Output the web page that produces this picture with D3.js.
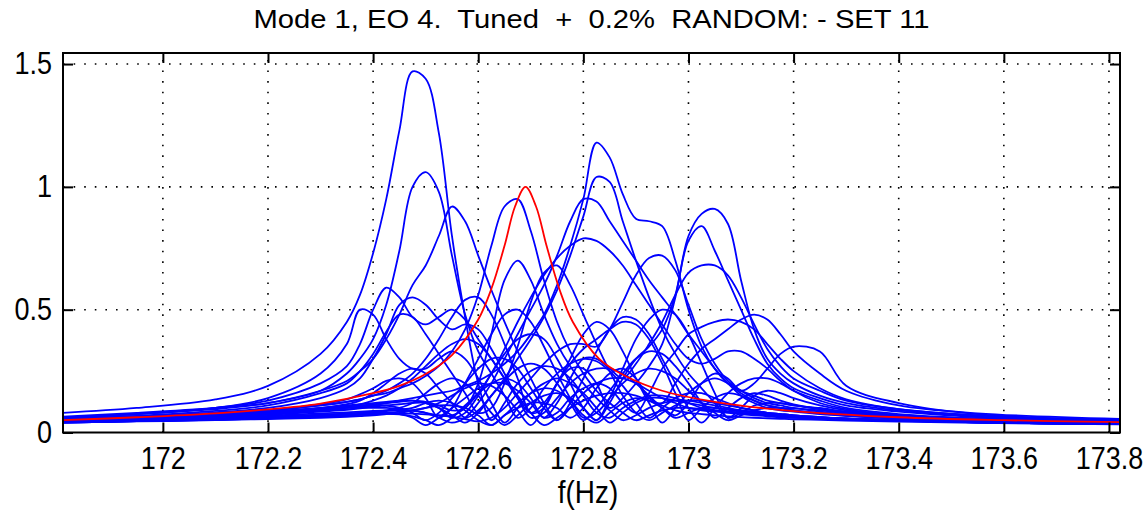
<!DOCTYPE html>
<html>
<head>
<meta charset="utf-8">
<script src="https://cdn.jsdelivr.net/npm/d3@7"></script>
<style>
  body { margin: 0; background: #fff; }
  svg text { font-family: "Liberation Sans", Arial, sans-serif; fill: #000; }
</style>
</head>
<body>
<div id="chart"></div>
<script>
const width = 1144,
      height = 512;
const margin = { left: 63, right: 24, top: 53, bottom: 79.5 };

const titleText = "Mode 1, EO 4.  Tuned  +  0.2%  RANDOM: - SET 11";
const xLabel = "f(Hz)";
const xTicks = [172, 172.2, 172.4, 172.6, 172.8, 173, 173.2, 173.4, 173.6, 173.8];
const yTicks = [0, 0.5, 1, 1.5];

// frequency grid shared by all the blade responses
const freqs = [171.81, 171.95, 172.10, 172.20, 172.30,
  172.35, 172.375, 172.40, 172.425, 172.45, 172.475, 172.50, 172.525, 172.55, 172.575,
  172.60, 172.625, 172.65, 172.675, 172.70, 172.725, 172.75, 172.775, 172.80, 172.825,
  172.85, 172.875, 172.90, 172.925, 172.95, 172.975, 173.00, 173.025, 173.05, 173.075,
  173.10, 173.125, 173.15, 173.175, 173.20, 173.25, 173.30, 173.40, 173.55, 173.82];

// mistuned blades (blue)
const blade01 = [.08,.1,.135,.19,.32, .45,.56,.73,.95,1.23, 1.47,1.44,1.22,.8,.47, .2,.05,.12,.2,.25, .27,.26,.22,.15,.08, .06,.1,.13,.15,.15, .14,.12,.1,.09,.085, .08,.075,.07,.068,.065, .06,.056,.05,.045,.035];
const blade02 = [.065,.08,.1,.12,.17, .24,.3,.38,.52,.74, 1.0,1.06,.98,.72,.48, .33,.24,.15,.06,.1, .18,.24,.28,.3,.29, .25,.19,.12,.06,.1, .14,.16,.16,.14,.12, .1,.09,.08,.075,.07, .063,.057,.05,.043,.035];
const blade03 = [.06,.075,.095,.12,.17, .21,.25,.3,.38,.48, .6,.68,.8,.92,.86, .72,.58,.45,.33,.22, .12,.05,.1,.16,.2, .22,.22,.2,.17,.14, .12,.1,.09,.085,.08, .075,.07,.066,.062,.06, .056,.052,.047,.041,.034];
const blade04 = [.05,.06,.075,.09,.11, .125,.135,.15,.16,.18, .2,.23,.27,.33,.42, .56,.76,.92,.95,.82, .62,.45,.33,.24,.17, .12,.08,.05,.07,.09, .1,.1,.095,.09,.085, .08,.075,.07,.066,.062, .057,.053,.047,.041,.034];
const blade05 = [.045,.055,.065,.075,.09, .1,.105,.11,.12,.13, .14,.15,.16,.17,.19, .21,.24,.28,.33,.4, .48,.6,.76,.95,1.18, 1.12,.97,.87,.86,.84, .7,.5,.35,.26,.2, .17,.15,.13,.12,.11, .095,.085,.07,.057,.045];
const blade06 = [.05,.06,.07,.08,.095, .105,.11,.115,.12,.125, .13,.12,.1,.07,.04, .08,.15,.22,.3,.38, .47,.58,.72,.88,1.04, 1.02,.86,.7,.55,.42, .32,.24,.18,.12,.06, .08,.11,.12,.12,.11, .1,.085,.07,.055,.042];
const blade07 = [.05,.06,.07,.08,.09, .095,.1,.1,.1,.095, .09,.08,.06,.04,.06, .12,.2,.3,.4,.5, .6,.72,.86,.95,.94, .86,.78,.7,.62,.55, .48,.4,.33,.26,.2, .15,.12,.1,.09,.085, .075,.068,.058,.048,.038];
const blade08 = [.045,.052,.06,.068,.078, .082,.085,.088,.09,.09, .088,.08,.07,.07,.1, .16,.24,.34,.45,.55, .64,.71,.76,.79,.78, .74,.68,.6,.52,.44, .36,.3,.28,.3,.33, .33,.3,.26,.21,.17, .12,.095,.07,.055,.042];
const blade09 = [.04,.046,.053,.06,.07, .076,.08,.085,.09,.1, .12,.16,.2,.22,.2, .15,.08,.03,.07,.12, .15,.16,.14,.1,.05, .12,.22,.3,.35,.42, .56,.8,.89,.91,.85, .62,.42,.3,.24,.2, .15,.12,.09,.065,.048];
const blade10 = [.04,.046,.052,.058,.064, .068,.072,.076,.08,.085, .09,.1,.12,.15,.18, .2,.19,.15,.09,.03, .1,.2,.26,.26,.2, .1,.14,.2,.27,.36, .55,.78,.84,.74,.62, .5,.38,.28,.22,.18, .14,.11,.085,.063,.047];
const blade11 = [.04,.046,.052,.058,.065, .07,.072,.075,.076,.074, .066,.05,.03,.06,.11, .16,.2,.22,.2,.14, .06,.12,.22,.3,.3, .26,.22,.28,.36,.45, .56,.65,.68,.68,.64, .55,.44,.34,.27,.22, .17,.13,.095,.07,.05];
const blade12 = [.045,.05,.057,.063,.07, .073,.075,.077,.078,.078, .077,.074,.07,.064,.055, .045,.06,.1,.16,.22, .28,.33,.36,.36,.35, .42,.53,.64,.71,.72, .66,.52,.38,.28,.21, .17,.14,.12,.11,.1, .085,.075,.06,.05,.04];
const blade13 = [.06,.075,.1,.13,.2, .27,.36,.5,.59,.55, .47,.44,.47,.5,.46, .38,.3,.22,.15,.08, .03,.06,.1,.13,.15, .16,.16,.15,.13,.11, .09,.08,.075,.07,.066, .063,.06,.058,.056,.054, .051,.048,.044,.039,.033];
const blade14 = [.055,.068,.088,.11,.16, .2,.25,.32,.41,.48, .47,.4,.32,.24,.16, .08,.1,.2,.35,.53, .65,.68,.6,.48,.36, .25,.15,.08,.05,.08, .11,.13,.13,.12,.11, .1,.09,.08,.075,.07, .062,.056,.048,.041,.034];
const blade15 = [.05,.06,.072,.085,.1, .11,.115,.12,.125,.13, .13,.125,.11,.09,.1, .2,.4,.62,.7,.62, .48,.36,.27,.2,.14, .09,.05,.07,.1,.12, .13,.13,.12,.11,.1, .09,.082,.076,.07,.066, .06,.055,.048,.041,.034];
const blade16 = [.055,.066,.082,.1,.14, .18,.22,.3,.4,.52, .55,.52,.46,.42,.44, .42,.34,.24,.14,.06, .08,.14,.2,.24,.26, .26,.24,.2,.15,.1, .06,.08,.1,.1,.095, .09,.085,.08,.075,.07, .063,.057,.05,.042,.034];
const blade17 = [.045,.054,.066,.078,.095, .105,.115,.13,.15,.18, .22,.27,.32,.36,.38, .36,.3,.22,.14,.08, .12,.2,.3,.4,.45, .42,.33,.22,.12,.04, .1,.16,.2,.22,.2, .16,.13,.11,.1,.09, .078,.068,.056,.046,.036];
const blade18 = [.04,.045,.05,.055,.06, .064,.067,.07,.075,.08, .09,.1,.11,.11,.1, .07,.03,.07,.12,.16, .18,.17,.13,.07,.04, .08,.12,.14,.13,.1, .07,.12,.2,.24,.22, .17,.2,.26,.32,.35, .33,.19,.12,.075,.05];
const blade19 = [.042,.048,.055,.062,.07, .074,.077,.08,.08,.075, .06,.03,.06,.1,.14, .18,.2,.2,.17,.12, .06,.08,.14,.18,.2, .18,.12,.08,.16,.26, .33,.4,.43,.45,.46, .45,.42,.36,.3,.25, .18,.135,.095,.07,.05];
const blade20 = [.043,.05,.057,.065,.073, .077,.08,.083,.087,.093, .1,.12,.13,.12,.09, .05,.03,.07,.1,.12, .12,.1,.06,.1,.18, .24,.26,.22,.14,.12, .2,.28,.34,.38,.42, .46,.48,.46,.4,.33, .24,.17,.11,.078,.055];
const blade21 = [.05,.058,.07,.082,.1, .115,.13,.16,.2,.24, .26,.24,.18,.12,.06, .09,.15,.21,.26,.28, .26,.2,.12,.05,.1, .17,.24,.3,.33,.32, .27,.2,.12,.06,.1, .14,.16,.15,.13,.115, .095,.08,.063,.05,.038];
const blade22 = [.048,.056,.066,.077,.09, .1,.105,.11,.11,.1, .08,.05,.08,.14,.2, .26,.3,.3,.26,.18, .1,.05,.12,.22,.33, .42,.47,.46,.4,.3, .2,.1,.04,.1,.16, .2,.22,.22,.2,.17, .13,.1,.075,.057,.042];
const blade23 = [.052,.062,.075,.09,.115, .135,.155,.18,.21,.22, .2,.14,.06,.1,.2, .3,.4,.48,.5,.45, .35,.24,.14,.06,.08, .14,.2,.24,.26,.25, .22,.17,.12,.08,.05, .07,.09,.1,.1,.098, .09,.08,.065,.052,.04];
const blade24 = [.06,.075,.1,.14,.24, .36,.5,.48,.38,.3, .26,.26,.3,.33,.3, .22,.12,.04,.1,.16, .2,.22,.2,.16,.1, .04,.08,.12,.14,.14, .13,.12,.11,.1,.092, .085,.079,.074,.07,.066, .06,.055,.048,.041,.034];
const blade25 = [.05,.06,.073,.088,.11, .125,.135,.15,.17,.2, .24,.3,.38,.47,.54, .55,.48,.36,.22,.08, .1,.2,.28,.34,.38, .42,.45,.44,.38,.28, .16,.05,.1,.14,.16, .15,.13,.11,.1,.09, .08,.07,.058,.048,.038];
const blade26 = [.045,.052,.062,.072,.085, .092,.098,.105,.11,.115, .12,.12,.1,.06,.08, .15,.24,.32,.38,.4, .38,.3,.2,.1,.05, .14,.26,.38,.46,.5, .48,.4,.28,.16,.06, .1,.15,.17,.16,.14, .11,.09,.07,.055,.042];

const blades = [blade01, blade02, blade03, blade04, blade05, blade06, blade07, blade08,
                blade09, blade10, blade11, blade12, blade13, blade14, blade15, blade16,
                blade17, blade18, blade19, blade20, blade21, blade22, blade23, blade24,
                blade25, blade26];

// tuned response (red)
const tunedFreqs = [171.81, 171.95, 172.10, 172.20, 172.30, 172.40, 172.45, 172.50, 172.55, 172.60,
  172.625, 172.65, 172.67, 172.69, 172.71, 172.73, 172.755, 172.78, 172.83, 172.88,
  172.95, 173.05, 173.20, 173.40, 173.60, 173.82];
const tunedAmp = [.05, .062, .078, .094, .118, .16, .19, .238, .315, .46,
  .585, .76, .92, 1.0, .92, .76, .58, .45, .30, .23,
  .17, .125, .087, .062, .05, .042];

const x = d3.scaleLinear().domain([171.81, 173.821]).range([margin.left, width - margin.right]);
const y = d3.scaleLinear().domain([0, 1.545]).range([height - margin.bottom, margin.top]);

const svg = d3.select("#chart")
  .append("svg")
    .attr("width", width)
    .attr("height", height);

svg.append("rect")
  .attr("width", width).attr("height", height).attr("fill", "#fff");

const x0 = margin.left, x1 = width - margin.right,
      y0 = height - margin.bottom, y1 = margin.top;

// dotted grid
svg.append("g").selectAll("line")
  .data(xTicks)
  .join("line")
    .attr("x1", d => x(d)).attr("x2", d => x(d))
    .attr("y1", y0).attr("y2", y1)
    .attr("stroke", "#000").attr("stroke-width", 1.6)
    .attr("stroke-dasharray", "1.6,9");
svg.append("g").selectAll("line")
  .data(yTicks.filter(d => d > 0))
  .join("line")
    .attr("x1", x0).attr("x2", x1)
    .attr("y1", d => y(d)).attr("y2", d => y(d))
    .attr("stroke", "#000").attr("stroke-width", 1.6)
    .attr("stroke-dasharray", "1.6,9");

svg.append("clipPath").attr("id", "plotclip")
  .append("rect")
    .attr("x", x0).attr("y", y1)
    .attr("width", x1 - x0).attr("height", y0 - y1);

const plot = svg.append("g").attr("clip-path", "url(#plotclip)");

const bladeLine = d3.line()
  .x((d, i) => x(freqs[i]))
  .y(d => y(d))
  .curve(d3.curveCatmullRom.alpha(0.5));

plot.selectAll("path.blade")
  .data(blades)
  .join("path")
    .attr("class", "blade")
    .attr("d", bladeLine)
    .attr("fill", "none")
    .attr("stroke", "#0000ff")
    .attr("stroke-width", 1.8);

const tunedLine = d3.line()
  .x((d, i) => x(tunedFreqs[i]))
  .y(d => y(d))
  .curve(d3.curveCatmullRom.alpha(0.5));

plot.append("path")
  .attr("d", tunedLine(tunedAmp))
  .attr("fill", "none")
  .attr("stroke", "#ff0000")
  .attr("stroke-width", 1.8);

// axes box + inward ticks (matlab style)
const fmt = d => String(+d.toFixed(1));
const tickLen = 10;
const squeeze = 0.87;

svg.append("g")
  .attr("class", "x-axis")
  .attr("transform", `translate(0,${y0})`)
  .call(d3.axisBottom(x).tickValues(xTicks).tickFormat(fmt).tickSizeInner(-tickLen).tickSizeOuter(0).tickPadding(14));
svg.append("g")
  .attr("class", "y-axis")
  .attr("transform", `translate(${x0},0)`)
  .call(d3.axisLeft(y).tickValues(yTicks).tickFormat(fmt).tickSizeInner(-tickLen).tickSizeOuter(0).tickPadding(11));
svg.append("g")
  .attr("transform", `translate(0,${y1})`)
  .call(d3.axisTop(x).tickValues(xTicks).tickFormat("").tickSizeInner(-tickLen).tickSizeOuter(0));
svg.append("g")
  .attr("transform", `translate(${x1},0)`)
  .call(d3.axisRight(y).tickValues(yTicks).tickFormat("").tickSizeInner(-tickLen).tickSizeOuter(0));

svg.selectAll(".domain").remove();
svg.selectAll(".tick line").attr("stroke", "#000").attr("stroke-width", 2);
svg.selectAll(".tick text")
  .attr("font-size", 31)
  .attr("font-family", null)
  .attr("transform", `scale(${squeeze},1)`);
svg.selectAll(".y-axis .tick text").attr("x", -11 / squeeze);

svg.append("rect")
  .attr("x", x0).attr("y", y1)
  .attr("width", x1 - x0).attr("height", y0 - y1)
  .attr("fill", "none")
  .attr("stroke", "#000")
  .attr("stroke-width", 2);

svg.append("text")
  .attr("x", (x0 + x1) / 2)
  .attr("y", 28)
  .attr("text-anchor", "middle")
  .attr("font-size", 25)
  .attr("textLength", 676)
  .attr("lengthAdjust", "spacingAndGlyphs")
  .style("white-space", "pre")
  .text(titleText);

svg.append("text")
  .attr("transform", `translate(588,503) scale(0.9,1)`)
  .attr("text-anchor", "middle")
  .attr("font-size", 31)
  .text(xLabel);
</script>
</body>
</html>
